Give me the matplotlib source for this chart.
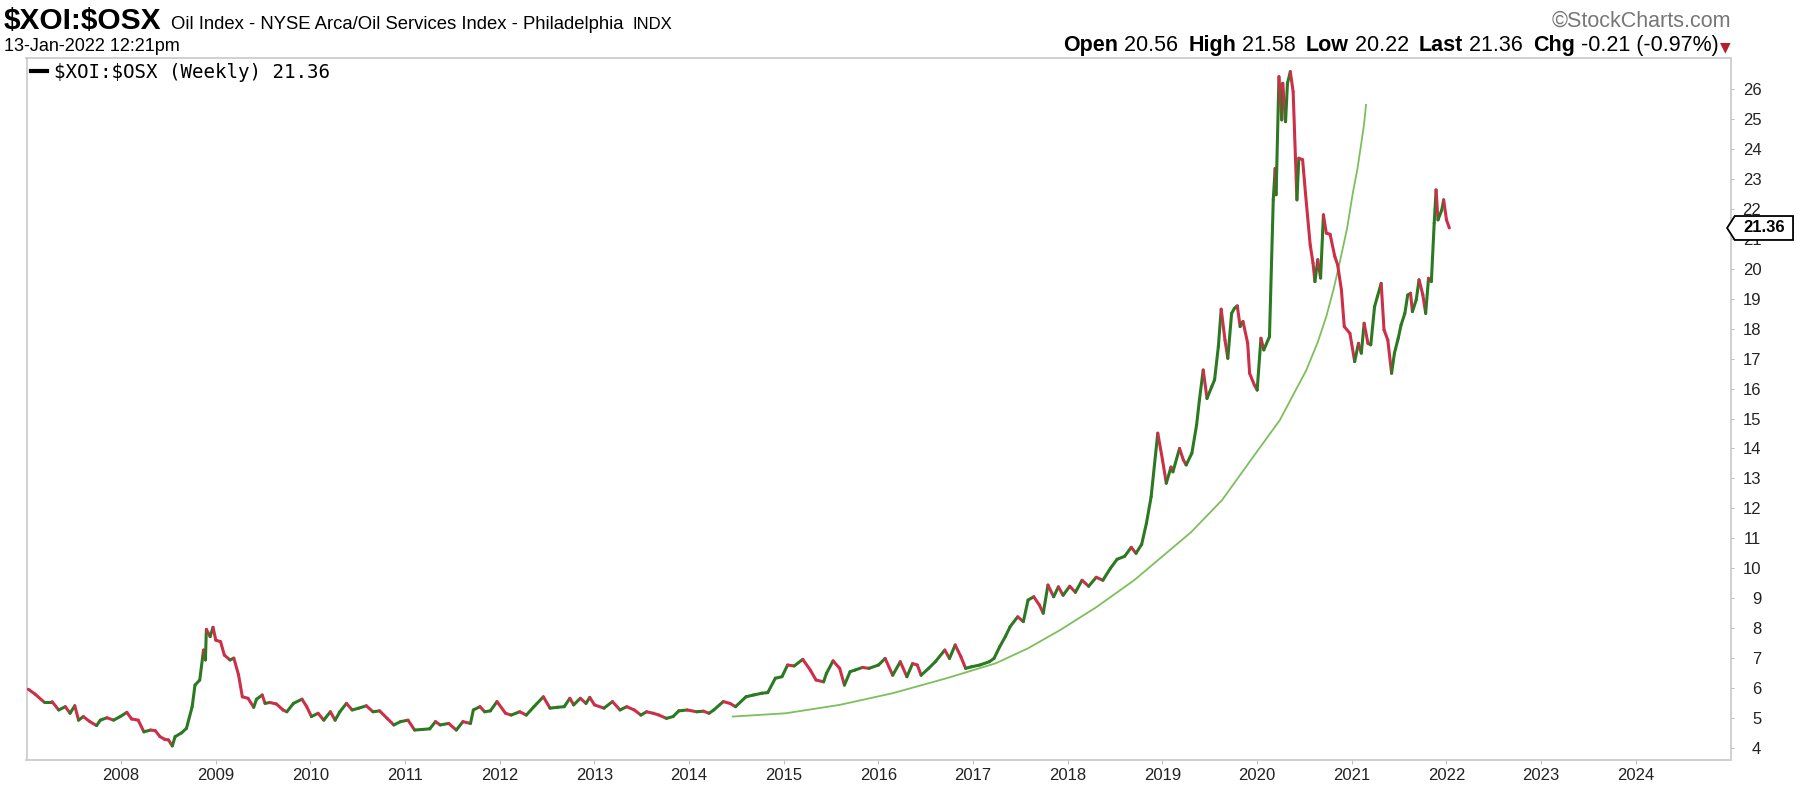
import matplotlib
matplotlib.use('Agg')
import matplotlib.pyplot as plt
import matplotlib.transforms as mtransforms
from matplotlib.collections import LineCollection
from matplotlib.patches import Polygon
from matplotlib.lines import Line2D
import numpy as np

plt.rcParams['font.family'] = ['Liberation Sans', 'DejaVu Sans']

# weekly ratio $XOI:$OSX (decimal years)
weeks = [
    2007.02, 2007.09, 2007.18, 2007.27, 2007.34, 2007.41, 2007.46, 2007.51, 2007.55, 2007.60,
    2007.67, 2007.74, 2007.78, 2007.85, 2007.92, 2007.99, 2008.06, 2008.11, 2008.18, 2008.24,
    2008.31, 2008.36, 2008.41, 2008.46, 2008.50, 2008.54, 2008.57, 2008.64, 2008.69, 2008.75,
    2008.78, 2008.83, 2008.87, 2008.89, 2008.90, 2008.94, 2008.97, 2009.00, 2009.05, 2009.09,
    2009.15, 2009.19, 2009.24, 2009.28, 2009.34, 2009.40, 2009.43, 2009.49, 2009.52, 2009.57,
    2009.64, 2009.71, 2009.75, 2009.82, 2009.91, 2009.96, 2010.01, 2010.08, 2010.14, 2010.21,
    2010.26, 2010.31, 2010.38, 2010.44, 2010.51, 2010.59, 2010.66, 2010.73, 2010.81, 2010.88,
    2010.95, 2011.03, 2011.10, 2011.18, 2011.26, 2011.32, 2011.37, 2011.46, 2011.54, 2011.61,
    2011.69, 2011.72, 2011.79, 2011.84, 2011.90, 2011.97, 2012.06, 2012.12, 2012.21, 2012.28,
    2012.36, 2012.46, 2012.53, 2012.61, 2012.68, 2012.74, 2012.78, 2012.85, 2012.91, 2012.95,
    2013.00, 2013.10, 2013.19, 2013.27, 2013.34, 2013.42, 2013.49, 2013.55, 2013.62, 2013.68,
    2013.76, 2013.83, 2013.89, 2013.98, 2014.08, 2014.15, 2014.21, 2014.26, 2014.36, 2014.43,
    2014.49, 2014.60, 2014.68, 2014.77, 2014.83, 2014.91, 2014.98, 2015.04, 2015.11, 2015.20,
    2015.28, 2015.34, 2015.42, 2015.45, 2015.52, 2015.59, 2015.64, 2015.70, 2015.75, 2015.83,
    2015.90, 2016.00, 2016.07, 2016.15, 2016.23, 2016.30, 2016.36, 2016.41, 2016.45, 2016.53,
    2016.60, 2016.70, 2016.75, 2016.81, 2016.87, 2016.92, 2016.98, 2017.07, 2017.17, 2017.22,
    2017.28, 2017.34, 2017.39, 2017.47, 2017.53, 2017.58, 2017.64, 2017.70, 2017.74, 2017.79,
    2017.85, 2017.90, 2017.95, 2018.02, 2018.08, 2018.15, 2018.22, 2018.30, 2018.37, 2018.45,
    2018.52, 2018.60, 2018.67, 2018.72, 2018.78, 2018.83, 2018.88, 2018.95, 2019.00, 2019.04,
    2019.09, 2019.11, 2019.18, 2019.22, 2019.25, 2019.31, 2019.36, 2019.39, 2019.43, 2019.47,
    2019.52, 2019.55, 2019.59, 2019.62, 2019.66, 2019.69, 2019.73, 2019.76, 2019.79, 2019.82,
    2019.85, 2019.90, 2019.92, 2019.97, 2020.00, 2020.04, 2020.07, 2020.13, 2020.17, 2020.19,
    2020.20, 2020.23, 2020.26, 2020.27, 2020.30, 2020.32, 2020.35, 2020.38, 2020.42, 2020.44,
    2020.48, 2020.51, 2020.56, 2020.59, 2020.61, 2020.64, 2020.67, 2020.70, 2020.73, 2020.77,
    2020.82, 2020.85, 2020.89, 2020.92, 2020.98, 2021.03, 2021.07, 2021.10, 2021.13, 2021.17,
    2021.20, 2021.24, 2021.27, 2021.31, 2021.34, 2021.38, 2021.42, 2021.45, 2021.49, 2021.52,
    2021.56, 2021.59, 2021.62, 2021.64, 2021.68, 2021.71, 2021.75, 2021.78, 2021.81, 2021.84,
    2021.87, 2021.89, 2021.91, 2021.95, 2021.97, 2022.00, 2022.03,
]
ratio = [
    5.96, 5.80, 5.55, 5.55, 5.27, 5.38, 5.16, 5.41, 4.93, 5.05,
    4.88, 4.75, 4.93, 5.01, 4.93, 5.05, 5.19, 4.97, 4.93, 4.54,
    4.60, 4.58, 4.38, 4.29, 4.27, 4.07, 4.38, 4.51, 4.66, 5.38,
    6.10, 6.27, 7.27, 6.94, 7.96, 7.72, 8.03, 7.60, 7.55, 7.10,
    6.94, 7.00, 6.44, 5.71, 5.66, 5.36, 5.63, 5.77, 5.49, 5.52,
    5.47, 5.27, 5.21, 5.49, 5.63, 5.38, 5.05, 5.16, 4.93, 5.21,
    4.93, 5.21, 5.49, 5.27, 5.33, 5.41, 5.21, 5.24, 4.99, 4.77,
    4.88, 4.93, 4.60, 4.62, 4.64, 4.88, 4.77, 4.82, 4.60, 4.88,
    4.82, 5.27, 5.38, 5.21, 5.24, 5.55, 5.16, 5.10, 5.21, 5.10,
    5.38, 5.71, 5.33, 5.36, 5.38, 5.66, 5.44, 5.66, 5.49, 5.69,
    5.44, 5.33, 5.55, 5.27, 5.38, 5.27, 5.10, 5.21, 5.16, 5.10,
    4.99, 5.05, 5.24, 5.27, 5.21, 5.23, 5.16, 5.27, 5.55, 5.49,
    5.38, 5.71, 5.77, 5.83, 5.85, 6.33, 6.38, 6.77, 6.74, 6.96,
    6.60, 6.27, 6.21, 6.49, 6.91, 6.66, 6.10, 6.55, 6.60, 6.69,
    6.66, 6.77, 6.99, 6.43, 6.88, 6.38, 6.82, 6.77, 6.43, 6.66,
    6.88, 7.27, 6.99, 7.44, 7.05, 6.66, 6.71, 6.77, 6.88, 6.99,
    7.38, 7.72, 8.05, 8.38, 8.22, 8.94, 9.05, 8.77, 8.50, 9.44,
    9.05, 9.38, 9.10, 9.40, 9.20, 9.60, 9.40, 9.70, 9.60, 10.00,
    10.30, 10.40, 10.70, 10.50, 10.80, 11.50, 12.39, 14.51, 13.62, 12.84,
    13.38, 13.22, 14.00, 13.62, 13.45, 13.84, 14.78, 15.62, 16.62, 15.67,
    16.06, 16.29, 17.40, 18.65, 17.62, 17.01, 18.51, 18.68, 18.76, 18.07,
    18.24, 17.51, 16.51, 16.12, 15.95, 17.68, 17.29, 17.73, 22.30, 23.35,
    22.47, 26.41, 24.97, 26.19, 24.91, 26.19, 26.58, 25.91, 22.30, 23.69,
    23.64, 22.53, 20.80, 20.19, 19.57, 20.30, 19.69, 21.80, 21.19, 21.15,
    20.41, 20.13, 19.29, 18.07, 17.84, 16.90, 17.51, 17.18, 18.18, 17.51,
    17.46, 18.73, 19.07, 19.51, 17.96, 17.62, 16.51, 17.18, 17.68, 18.12,
    18.51, 19.12, 19.18, 18.57, 18.96, 19.63, 19.13, 18.51, 19.68, 19.57,
    21.52, 22.63, 21.63, 21.96, 22.30, 21.63, 21.36,
]

# hand drawn curve on the chart
arc_x = [2014.46, 2015.02, 2015.59, 2016.15, 2016.72, 2017.24, 2017.58, 2017.92, 2018.30,
         2018.70, 2019.00, 2019.30, 2019.63, 2019.96, 2020.24, 2020.52, 2020.64, 2020.73,
         2020.81, 2020.87, 2020.95, 2021.01, 2021.06, 2021.10, 2021.13, 2021.15]
arc_y = [5.05, 5.16, 5.44, 5.83, 6.33, 6.83, 7.33, 7.94, 8.70,
         9.60, 10.40, 11.20, 12.28, 13.73, 14.95, 16.62, 17.55, 18.40,
         19.35, 20.18, 21.35, 22.52, 23.35, 24.19, 24.85, 25.47]

years = list(range(2008, 2025))
yticks = list(range(4, 27))

symbol = '$XOI:$OSX'
name = 'Oil Index - NYSE Arca/Oil Services Index - Philadelphia'
exchange = 'INDX'
stamp = '13-Jan-2022 12:21pm'
quote = [('Open', '20.56'), ('High', '21.58'), ('Low', '20.22'), ('Last', '21.36'),
         ('Chg', '-0.21 (-0.97%)')]

GREEN = '#2b7a22'
RED = '#cc2f48'
W, H = 1818, 798

fig = plt.figure(figsize=(W / 100, H / 100), dpi=100)
ax = fig.add_axes([26.5 / W, 1 - 760 / H, 1704 / W, 702 / H])

pts = np.column_stack([weeks, ratio])
segs = np.stack([pts[:-1], pts[1:]], axis=1)
cols = np.where(np.diff(ratio) >= 0, GREEN, RED)
lc = LineCollection(segs, colors=cols, linewidths=2.2, capstyle='round', joinstyle='round', zorder=3)
ax.add_collection(lc)

ax.plot(arc_x, arc_y, color='#7cbf5c', lw=1.3, zorder=2, solid_joinstyle='round')

ax.set_xlim(2007.0, 2025.0)
ax.set_ylim(3.6, 27.035)
ax.set_xticks(years)
ax.set_xticklabels([str(y) for y in years])
ax.yaxis.tick_right()
ax.set_yticks(yticks)
ax.set_yticklabels([str(v) for v in yticks])
ax.tick_params(axis='y', direction='out', length=2.2, width=0.8, color='#c0c0c0', pad=20,
               labelsize=12, labelcolor='#222222')
ax.tick_params(axis='x', direction='out', length=3, width=0.8, color='#c0c0c0', pad=3,
               labelsize=12, labelcolor='#222222')
for lbl in ax.get_yticklabels():
    lbl.set_ha('right')
for sp in ax.spines.values():
    sp.set_color('#c8c8c8')
    sp.set_linewidth(1.2)

ax.legend([Line2D([0], [0], color='black', lw=3)],
          [symbol.replace('$', r'\$') + ' (Weekly) ' + f'{ratio[-1]:.2f}'],
          loc='upper left', frameon=False, prop={'family': 'DejaVu Sans Mono', 'size': 13.8},
          handlelength=0.8, handletextpad=0.4, borderaxespad=0.15, borderpad=0.1)

# last value tag on the right axis
tr = mtransforms.blended_transform_factory(ax.transAxes, ax.transData)
last = ratio[-1]
tag = Polygon([(0.998, last), (1.0025, last + 0.4), (1.0367, last + 0.4),
               (1.0367, last - 0.4), (1.0025, last - 0.4)],
              closed=True, transform=tr, facecolor='white', edgecolor='black', lw=1.3,
              clip_on=False, zorder=6)
ax.add_patch(tag)
ax.text(1.0199, last, f'{last:.2f}', transform=tr, ha='center', va='center',
        fontsize=12, fontweight='bold', clip_on=False, zorder=7)

# header
fig.text(3.5 / W, 1 - 29 / H, symbol, fontsize=21.5, fontweight='bold', va='baseline',
         parse_math=False)
fig.text(171 / W, 1 - 29 / H, name, fontsize=13.3, va='baseline')
fig.text(633 / W, 1 - 29 / H, exchange, fontsize=12, va='baseline')
fig.text(3.5 / W, 1 - 51 / H, stamp, fontsize=13, va='baseline')
fig.text(1731 / W, 1 - 27 / H, '\u00a9StockCharts.com', fontsize=15.5, color='#777777',
         ha='right', va='baseline')

renderer = fig.canvas.get_renderer()
x = 1731
t = fig.text(x / W, 1 - 51 / H, '\u25bc', fontsize=10, color='#b5202e', ha='right',
             va='baseline', family='DejaVu Sans')
x = t.get_window_extent(renderer).x0 - 2
for lab, val in reversed(quote):
    t = fig.text(x / W, 1 - 51 / H, ' ' + val, fontsize=15.5, ha='right', va='baseline')
    x = t.get_window_extent(renderer).x0
    t = fig.text(x / W, 1 - 51 / H, lab, fontsize=15.5, fontweight='bold', ha='right',
                 va='baseline')
    x = t.get_window_extent(renderer).x0 - 10

fig.savefig('out.png', dpi=100)
